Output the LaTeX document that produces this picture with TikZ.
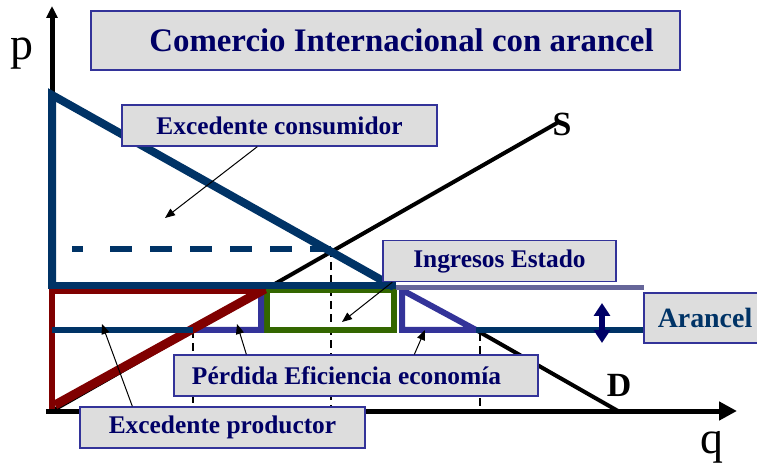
\documentclass[tikz,border=0pt]{standalone}
\usepackage{fontspec}
\setmainfont{Liberation Serif}
\usetikzlibrary{arrows.meta}
\definecolor{dblue}{HTML}{003366}
\definecolor{dred}{HTML}{800000}
\definecolor{dgreen}{HTML}{336600}
\definecolor{purp}{HTML}{333399}
\definecolor{lpurp}{HTML}{666699}
\definecolor{boxfill}{HTML}{DDDDDD}
\definecolor{txt}{HTML}{000066}
\definecolor{navyc}{HTML}{000066}
\begin{document}
\begin{tikzpicture}[x=1bp,y=-1bp,
  lbl/.style={draw=purp, line width=1.3bp, fill=boxfill, text=txt, font=\bfseries\fontsize{25.5}{28}\selectfont, inner sep=0pt, minimum height=41bp},
  ptr/.style={-{Triangle[length=10bp,width=8bp]}, line width=1bp, black},
  vdash/.style={black, line width=2.6bp, dash pattern=on 8bp off 5bp},
  axlbl/.style={font=\fontsize{46}{46}\selectfont, inner sep=0pt},
  crvlbl/.style={font=\bfseries\fontsize{34}{34}\selectfont, inner sep=0pt},
  thickblue/.style={dblue, line width=8bp}
]
\clip (0,0) rectangle (757,465);
\fill[white] (0,0) rectangle (757,465);

% coordinates
\coordinate (O) at (52,411);
\coordinate (ytip) at (52,6);
\coordinate (xtip) at (737,411);
\coordinate (dtop) at (52,95);
\coordinate (stop) at (557,123);
\coordinate (dend) at (618,411);

% axes
\draw[line width=5bp, -{Triangle[length=12bp,width=11bp]}] (O) -- (ytip);
\draw[line width=5bp, -{Triangle[length=18bp,width=18bp]}] (46,411) -- (xtip);

% dashed guide lines
\draw[vdash] (193,330) -- (193,409);
\draw[vdash] (331,249) -- (331,409);
\draw[vdash] (480,333) -- (480,409);

% supply (thin black) and lower demand
\draw[line width=4bp] (O) -- (stop);
\draw[line width=4bp] (476,330) -- (dend);

% green rectangle (state revenue)
\draw[dgreen, line width=5.5bp] (267,290) rectangle (394,330);

% purple triangles (efficiency loss)
\draw[purp, line width=6bp, line join=miter] (193,330) -- (261,330) -- (261,292) -- cycle;
\draw[purp, line width=6bp, line join=miter] (402,290) -- (402,330) -- (476,330) -- cycle;

% producer surplus (red)
\draw[dred, line width=6bp] (52,409) -- (52,291) -- (266,291);
\draw[dred, line width=9bp] (55,405) -- (265,289);

% world price lines
\draw[dblue, line width=5.5bp] (52,330) -- (193,330);
\draw[dblue, line width=5.5bp] (476,330) -- (644,330);
% tariff price line
\draw[lpurp, line width=5.5bp] (396,287.5) -- (644,287.5);
\draw[thickblue, line width=7bp] (49,286) -- (396,286);
% consumer surplus (blue)
\draw[thickblue, line join=miter] (52,289) -- (dtop) -- (394,287);
% autarky price dashed
\draw[dblue, line width=6bp] (72,249) -- (83,249);
\draw[dblue, line width=6bp, dash pattern=on 22bp off 18bp] (110,249) -- (331,249);

% tariff double arrow
\draw[navyc, line width=6.5bp, {Triangle[length=13bp,width=16bp]}-{Triangle[length=13bp,width=16bp]}] (602,303) -- (602,343);

% labels
\node[lbl, minimum width=589bp, minimum height=59bp, font=\bfseries\fontsize{33}{36}\selectfont] (title) at (385.5,40.5) {\hspace*{32bp}Comercio Internacional con arancel};
\node[lbl, minimum width=315bp] (ec) at (279.5,125.5) {Excedente consumidor};
\node[lbl, minimum width=233bp] (ie) at (499.5,261) {Ingresos Estado};
\node[lbl, minimum width=122bp, minimum height=50bp, text=dblue, font=\bfseries\fontsize{28}{30}\selectfont] (ar) at (705,318) {Arancel};
\node[lbl, minimum width=364bp] (pe) at (356,375.5) {Pérdida Eficiencia economía\hspace*{19bp}};
\node[lbl, minimum width=285bp] (ep) at (222.5,427.5) {Excedente productor};

% pointer targets
\coordinate (tc) at (165,218);
\coordinate (ti) at (342,322);
\coordinate (tpl) at (237,324);
\coordinate (tpr) at (425,330);
\coordinate (tp) at (102,324);

\draw[ptr] ([xshift=136bp]ec.south west) -- (tc);
\draw[ptr] ([xshift=10bp]ie.south west) -- (ti);
\draw[ptr] ([xshift=73bp]pe.north west) -- (tpl);
\draw[ptr] ([xshift=241bp]pe.north west) -- (tpr);
\draw[ptr] ([xshift=53bp]ep.north west) -- (tp);

% axis and curve labels
\node[axlbl] (p) at (22,54) {p};
\node[axlbl] (q) at (712,447) {q};
\node[crvlbl] (S) at (562,124) {S};
\node[crvlbl] (D) at (619,385) {D};
\end{tikzpicture}
\end{document}
